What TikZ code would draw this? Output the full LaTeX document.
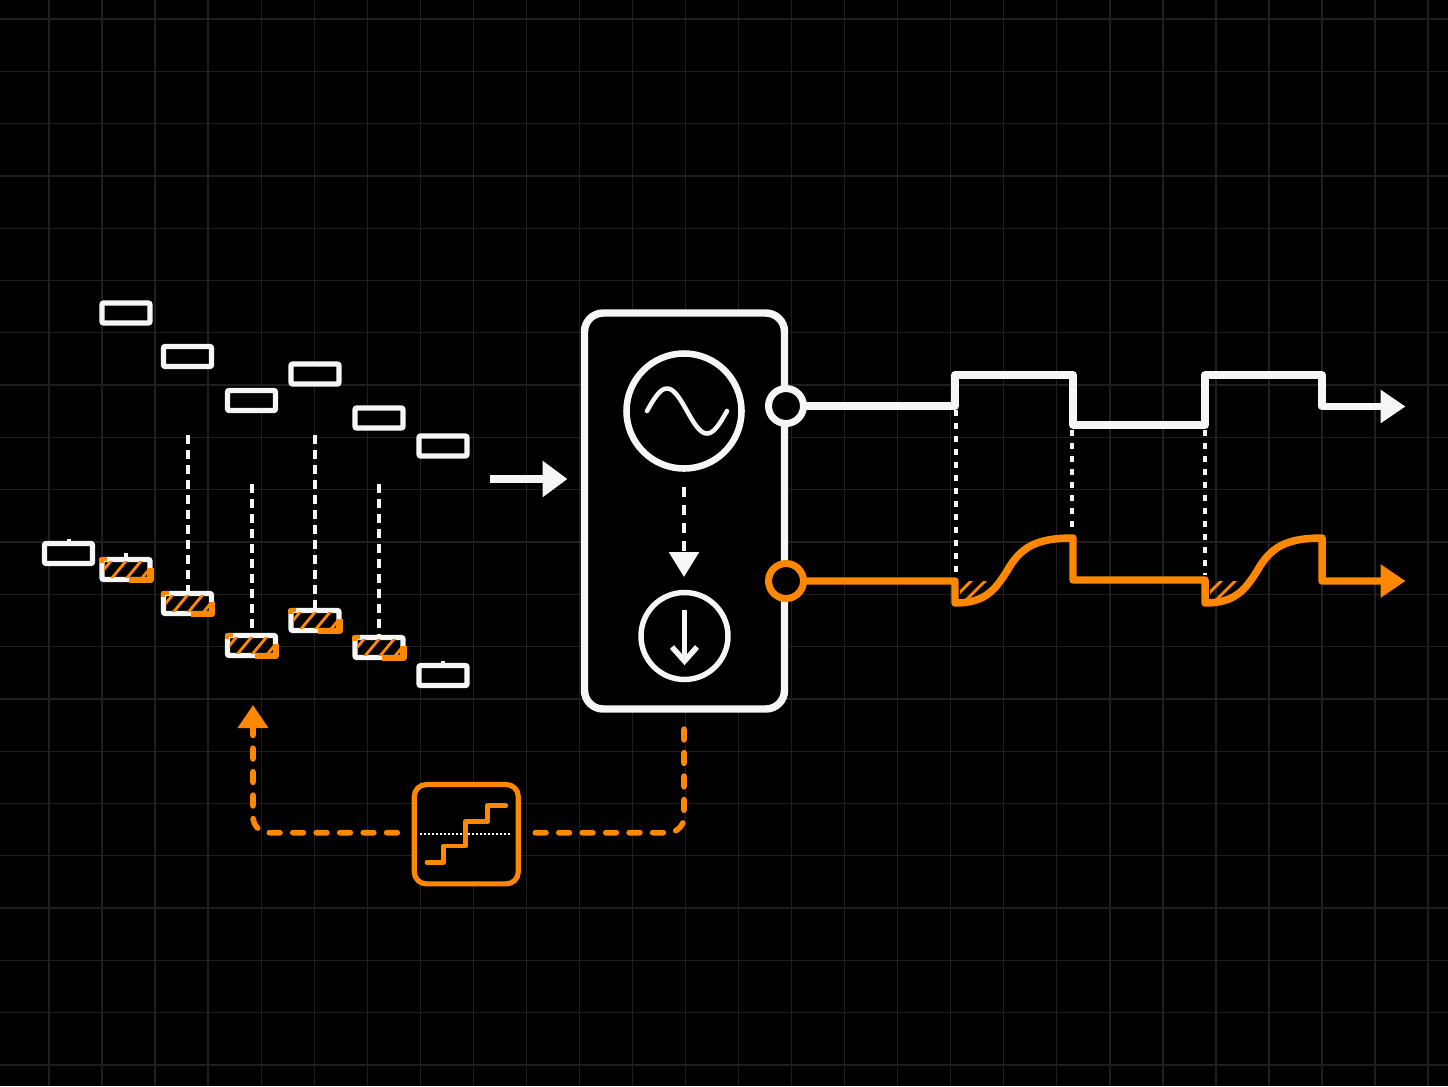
\documentclass[tikz,border=0pt]{standalone}
\usetikzlibrary{arrows.meta,calc}

\definecolor{sigorange}{RGB}{255,136,0}
\definecolor{sigwhite}{RGB}{246,246,246}
\definecolor{gridgray}{RGB}{31,31,31}

\tikzset{
  gridline/.style={color=gridgray,line width=1pt},
  candle/.style={draw=sigwhite,fill=black,line width=4.1pt,rounded corners=1.5pt,inner sep=0pt,outer sep=0pt,minimum width=36pt,minimum height=15pt},
  tick/.style={color=sigwhite,line width=3pt},
  hatchline/.style={color=sigorange,line width=2.1pt},
  hit/.style={color=sigorange,line width=4.6pt,line join=round},
  drop/.style={color=sigwhite,line width=3pt,dash pattern=on 6.75pt off 4.5pt},
  dots/.style={color=sigwhite,line width=3pt,dash pattern=on 4.5pt off 5.25pt},
  bigcircle/.style={circle,draw=sigwhite,inner sep=0pt,outer sep=0pt},
  port/.style={circle,fill=black,line width=5.25pt,inner sep=0pt,outer sep=0pt,minimum size=26.25pt},
  wire/.style={line width=5.6pt,line join=round},
  feedback/.style={color=sigorange,line width=4.2pt,line cap=round,dash pattern=on 8pt off 9.6pt,rounded corners=12pt},
}
\newcommand{\hatchcandle}[1]{%
  \begin{scope}
    \clip ($(#1.south west)+(2,-2)$) rectangle ($(#1.north east)+(-2,2)$);
    \foreach \k in {0,...,6}
      \draw[hatchline] ($(#1.south west)+({-8+15*\k},2)$) -- ++(20,-24);
  \end{scope}
  \draw[hit] ($(#1.south)+(3,0.5)$) -- ($(#1.south east)+(0.5,0.5)$) -- ($(#1.east)+(0.5,-2)$);
  \draw[hit,line width=3.4pt] ($(#1.north west)+(5,-0.5)$) -- ($(#1.north west)+(-0.5,-0.5)$) -- ($(#1.north west)+(-0.5,3)$);
}

\begin{document}
\begin{tikzpicture}[x=0.75pt,y=0.75pt,yscale=-1,xscale=1]
\fill[black] (0,0) rectangle (1448,1086);
\useasboundingbox (0,0) rectangle (1448,1086);

%Grid
\foreach \i in {1,...,27} \draw[gridline] ({-4+53.04*\i},0) -- ({-4+53.04*\i},1086);
\foreach \i in {0,...,20} \draw[gridline] (0,{19+52.3*\i}) -- (1448,{19+52.3*\i});

%Upper row
\foreach \n/\px/\py in {u1/126/313,u2/187.5/356.5,u3/251.5/400.5,u4/315/374,u5/379/418,u6/443/446}
  \node[candle] (\n) at (\px,\py) {};
%Lower row
\foreach \n/\px/\py in {l1/68.5/553.5,l2/126/569.5,l3/187.5/603.5,l4/251.5/645.5,l5/315/620.5,l6/379/647.5,l7/443/675.5}
  \node[candle] (\n) at (\px,\py) {};
\foreach \n in {l2,l3,l4,l5,l6} {\hatchcandle{\n}}

\draw[tick] (l1.north) -- ++(0,-5);
\draw[tick] (l2.north) -- ++(0,-7);
\draw[tick] (l7.north) -- ++(0,-5);
\coordinate (d3) at (187.5,435);
\coordinate (d4) at (251.5,484);
\coordinate (d5) at (315,435);
\coordinate (d6) at (379,484);
\draw[drop] (d3) -- (l3.north);
\draw[drop] (d4) -- (l4.north);
\draw[drop] (d5) -- (l5.north);
\draw[drop] (d6) -- (l6.north);

%Input arrow
\coordinate (inl) at (490,479);
\draw[color=sigwhite,line width=5.6pt,-{Triangle[length=18.75pt,width=26.25pt]}] (inl) -- (567.5,479);

%Block
\node[draw=sigwhite,fill=black,line width=5.6pt,rounded corners=14pt,inner sep=0pt,outer sep=0pt,minimum width=150pt,minimum height=297pt] (block) at (684.5,511) {};
\node[bigcircle,line width=4.9pt,minimum size=86.25pt] (osc) at (684,411) {};
\node[bigcircle,line width=4.1pt,minimum size=65.25pt] (down) at (684.5,636) {};
\draw[color=sigwhite,line width=3.4pt,line cap=round] plot[domain=647:727,samples=60] ({\x},{411-22.5*sin((\x-647)*4.5)});
\draw[color=sigwhite,line width=3.4pt,dash pattern=on 7.5pt off 6pt,-{Triangle[length=18.75pt,width=22pt]}] ($(osc.south)+(0,18)$) -- (684,577);
\coordinate (dt) at (684.5,610);
\coordinate (db) at (684.5,661);
\draw[color=sigwhite,line width=4.1pt] (dt) -- (db);
\draw[color=sigwhite,line width=4.1pt,line join=miter] (672,647) -- (db) -- (697,647);

%Ports
\node[port,draw=sigwhite] (pw) at (786,406) {};
\node[port,draw=sigorange] (po) at (786,581) {};

%Hatch under the orange trace
\begin{scope}
  \clip (960,581) -- (1010,581) -- (1000,590) -- (985,598) -- (960,600) -- cycle;
  \foreach \k in {0,...,4} \draw[hatchline] ({946+14*\k},606) -- ++(28,-28);
\end{scope}
\begin{scope}
  \clip (1210,581) -- (1260,581) -- (1250,590) -- (1235,598) -- (1210,600) -- cycle;
  \foreach \k in {0,...,4} \draw[hatchline] ({1196+14*\k},606) -- ++(28,-28);
\end{scope}

%Dotted links
\draw[dots] (956,410) -- (956,577);
\draw[dots] (1072,430) -- (1072,530);
\draw[dots] (1205,430) -- (1205,575);

%White trace
\draw[wire,color=sigwhite,-{Triangle[length=18.75pt,width=24pt]}] (pw.east) -- (955,406) -- (955,375) -- (1073,375) -- (1073,425) -- (1205,425) -- (1205,375) -- (1322,375) -- (1322,406.5) -- (1405.5,406.5);
%Orange trace
\draw[wire,color=sigorange,-{Triangle[length=18.75pt,width=24pt]}] (po.east) -- (955,581) -- (955,603) .. controls (985,603) and (995,590) .. (1007,571) .. controls (1020,548) and (1035,538) .. (1073,538) -- (1073,580) -- (1205,580) -- (1205,603) .. controls (1235,603) and (1245,590) .. (1257,571) .. controls (1270,548) and (1285,538) .. (1322,538) -- (1322,581) -- (1405.5,581);

%Quantizer
\node[draw=sigorange,fill=black,line width=3.9pt,rounded corners=9pt,inner sep=0pt,outer sep=0pt,minimum width=78pt,minimum height=74.5pt] (quant) at (466.3,834.2) {};
\draw[color=white,line width=1.5pt,dash pattern=on 1.5pt off 1.5pt] (420,833.5) -- (511,833.5);
\draw[color=sigorange,line width=3.7pt,line cap=round,line join=round] (427,862.3) -- (443.5,862.3) -- (443.5,846) -- (465.7,846) -- (465.7,821.7) -- (487.7,821.7) -- (487.7,805.7) -- (505.7,805.7);

%Feedback
\coordinate (fb) at (684,725);
\coordinate (ft) at (253,705);
\draw[feedback] ($(quant.east)+(17,-1.5)$) -| (fb);
\draw[feedback,-{Triangle[length=17.25pt,width=22pt]}] ($(quant.west)+(-17,-1.5)$) -| (ft);
\end{tikzpicture}
\end{document}
